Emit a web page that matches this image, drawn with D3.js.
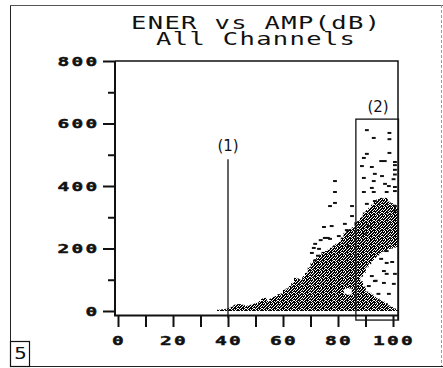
<!DOCTYPE html>
<html>
<head>
<meta charset="utf-8">
<script src="https://cdn.jsdelivr.net/npm/d3@7"></script>
<style>
  html, body { margin: 0; padding: 0; background: #fff; }
  svg { display: block; }
</style>
</head>
<body>
<svg id="chart" width="443" height="368"></svg>
<script>
// ENER vs AMP(dB) density plot, all channels

// amplitude bins (dB), one column each
const ampDb = [36, 37, 38, 39, 40, 41, 42, 43, 44, 45, 46, 47, 48, 49, 50, 51, 52, 53, 54, 55,
  56, 57, 58, 59, 60, 61, 62, 63, 64, 65, 66, 67, 68, 69, 70, 71, 72, 73, 74, 75,
  76, 77, 78, 79, 80, 81, 82, 83, 84, 85, 86, 87, 88, 89, 90, 91, 92, 93, 94, 95,
  96, 97, 98, 99, 100, 101];
// upper edge of the dense hit region per bin (energy counts)
const enerTop = [4, 5, 6, 7, 10, 14, 20, 22, 22, 20, 16, 18, 20, 24, 26, 32, 40, 42, 32, 40,
  45, 48, 54, 56, 68, 72, 80, 90, 106, 104, 100, 112, 122, 140, 154, 165, 170, 180, 189, 192,
  196, 202, 210, 215, 221, 235, 250, 259, 262, 268, 285, 290, 300, 315, 323, 330, 340, 350, 358, 362,
  360, 362, 350, 345, 340, 330];
// empty band inside the dense region (null = none)
const gapLow = [null, null, null, null, null, null, null, null, null, null, null, null, null, null, null, null, null, null, null, null,
  null, null, null, null, null, null, null, null, null, null, null, null, null, null, null, null, null, null, null, null,
  null, null, null, null, null, null, 55, 52, 52, null, null, null, 95, 78, 62, 58, 52, 45, 40, 35,
  30, 25, 18, 13, 8, 4];
const gapHigh = [null, null, null, null, null, null, null, null, null, null, null, null, null, null, null, null, null, null, null, null,
  null, null, null, null, null, null, null, null, null, null, null, null, null, null, null, null, null, null, null, null,
  null, null, null, null, null, null, 70, 74, 72, null, null, null, 110, 122, 140, 150, 160, 170, 178, 185,
  190, 195, 198, 200, 203, 205];

// isolated hits above the dense region
const hitAmp = [89.8, 98, 92.3, 98, 98, 89.8, 88.7, 95, 96.3, 100, 88, 91.6, 100, 100, 100, 99.5, 92.7, 95.3, 88.7, 78.2,
  92.3, 96.4, 97.8, 100, 91.6, 78.2, 88.7, 92.3, 97, 100, 78.2, 76.4, 84.4, 92.7, 89.8, 100, 100, 84.4, 81.8, 74.2,
  82.5, 74.5, 76.4, 79.6, 71, 70.5, 72.4, 69.8, 83.3, 97, 97, 96, 91.6, 92.7, 96, 97, 90.5, 94, 97.8, 100,
  99.6, 89, 90.5, 77, 75.6, 72, 71, 73, 93, 95, 99];
const hitEner = [582, 573, 557, 553, 509, 506, 493, 483, 483, 480, 467, 464, 470, 455, 440, 425, 442, 435, 429, 419,
  419, 410, 403, 400, 397, 384, 384, 384, 384, 387, 349, 339, 339, 355, 346, 339, 325, 307, 282, 272,
  262, 237, 234, 243, 218, 205, 202, 189, 211, 195, 157, 131, 115, 99, 93, 122, 83, 58, 58, 122,
  90, 250, 275, 275, 237, 180, 165, 230, 100, 170, 160];

// axis ticks
const yMajor = [0, 200, 400, 600, 800];
const yMinor = [100, 300, 500, 700];
const xTicks = [0, 10, 20, 30, 40, 50, 60, 70, 80, 90, 100];
const xLabels = [0, 20, 40, 60, 80, 100];

// marked zones: threshold line (1) and region (2)
const zone1 = [40, -22, 486];
const zone2 = [86.5, 102, -29, 614];

const svg = d3.select("#chart");
const x = d3.scaleLinear().domain([0, 100]).range([118, 393]);
const y = d3.scaleLinear().domain([0, 800]).range([311, 61]);

// stipple fill for the dense region (8x8 dither cell)
const ditherRows = ["10110111", "01101101", "11011010", "10110111", "01111001", "11010110", "01101111", "10111010"];
const defs = svg.append("defs");
const pat = defs.append("pattern").attr("id", "stipple")
  .attr("width", 8).attr("height", 8).attr("patternUnits", "userSpaceOnUse");
pat.append("rect").attr("width", 8).attr("height", 8).attr("fill", "#fff");
const dots = [];
ditherRows.forEach((row, j) => row.split("").forEach((c, i) => { if (c === "1") dots.push([i, j]); }));
pat.selectAll("rect.d").data(dots).join("rect").attr("class", "d")
  .attr("x", d => d[0]).attr("y", d => d[1]).attr("width", 1).attr("height", 1).attr("fill", "#000");

// outer frame
const frame = svg.append("g").attr("stroke", "#222").attr("stroke-width", 1).attr("fill", "none");
frame.append("line").attr("x1", 10.5).attr("x2", 10.5).attr("y1", 5).attr("y2", 366);
frame.append("line").attr("x1", 10).attr("x2", 443).attr("y1", 5.5).attr("y2", 5.5).attr("stroke", "#555");
frame.append("line").attr("x1", 10).attr("x2", 443).attr("y1", 366.5).attr("y2", 366.5);
frame.append("line").attr("x1", 441.5).attr("x2", 441.5).attr("y1", 5).attr("y2", 366)
  .attr("stroke", "#999").attr("stroke-dasharray", "3,2");

// page number box
svg.append("rect").attr("x", 10.5).attr("y", 341.5).attr("width", 19).attr("height", 25)
  .attr("fill", "none").attr("stroke", "#111").attr("stroke-width", 1.2);
svg.append("g").attr("transform", "translate(20.5,359) scale(1.3,1)")
  .append("text").attr("text-anchor", "middle")
  .attr("font-family", "DejaVu Sans Mono").attr("font-size", 16).attr("fill", "#111").text("5");

// title, wide monospaced lettering (pitch about 16.7px)
const tsx = 1.5;
const title = svg.append("g").attr("font-family", "DejaVu Sans Mono").attr("font-size", 17)
  .attr("letter-spacing", 0.9).attr("fill", "#111");
title.append("g").attr("transform", `translate(131,29) scale(${tsx},1.03)`)
  .append("text").text("ENER vs AMP(dB)");
title.append("g").attr("transform", `translate(156,45) scale(${tsx},1.03)`)
  .append("text").text("All Channels");

// dense region columns
const cols = ampDb.map((a, i) => ({ a, top: enerTop[i], lo: gapLow[i], hi: gapHigh[i] }));
const segs = [];
cols.forEach(c => {
  if (c.lo == null) segs.push({ a: c.a, from: 0, to: c.top });
  else {
    segs.push({ a: c.a, from: 0, to: c.lo });
    segs.push({ a: c.a, from: c.hi, to: c.top });
  }
});
svg.append("g").selectAll("rect").data(segs).join("rect")
  .attr("x", d => x(d.a)).attr("width", d => x(d.a + 1) - x(d.a) + 0.3)
  .attr("y", d => y(d.to)).attr("height", d => y(d.from) - y(d.to))
  .attr("fill", "url(#stipple)");

// isolated hits
svg.append("g").selectAll("rect").data(hitAmp.map((a, i) => [a, hitEner[i]])).join("rect")
  .attr("x", d => x(d[0])).attr("y", d => y(d[1]))
  .attr("width", d => x(d[0] + 1.4) - x(d[0])).attr("height", 2).attr("fill", "#111");

// plot box and axes
const axisColor = "#111";
svg.append("path")
  .attr("d", `M${x(0) - 3},${y(800)}H398V${y(-29)}`)
  .attr("fill", "none").attr("stroke", axisColor).attr("stroke-width", 1.5);
svg.append("path")
  .attr("d", `M115,${y(800)}V315.5H398`)
  .attr("fill", "none").attr("stroke", axisColor).attr("stroke-width", 2);

const yAxisMajor = d3.axisLeft(y).tickValues(yMajor).tickSize(12).tickFormat("");
const yAxisMinor = d3.axisLeft(y).tickValues(yMinor).tickSize(7).tickFormat("");
const gy1 = svg.append("g").attr("transform", "translate(115,0)").call(yAxisMajor);
const gy2 = svg.append("g").attr("transform", "translate(115,0)").call(yAxisMinor);
const gx = svg.append("g").attr("transform", "translate(0,316)")
  .call(d3.axisBottom(x).tickValues(xTicks).tickSize(11).tickFormat(""));
[gy1, gy2, gx].forEach(g => {
  g.select(".domain").remove();
  g.selectAll(".tick line").attr("stroke", axisColor).attr("stroke-width", 2);
});

// wide bold tick labels (pitch about 14px)
const sx = 1.5;
const labelFont = g => g.attr("font-family", "DejaVu Sans Mono").attr("font-weight", "bold")
  .attr("font-size", 13).attr("letter-spacing", 1.5).attr("fill", "#111")
  .attr("stroke", "#111").attr("stroke-width", 0.45);
svg.append("g").call(labelFont).selectAll("g").data(yMajor).join("g")
  .attr("transform", d => `translate(${99.5},${y(d) + 4.7}) scale(${sx},1)`)
  .append("text").attr("text-anchor", "end").text(d => d);
svg.append("g").call(labelFont).selectAll("g").data(xLabels).join("g")
  .attr("transform", d => `translate(${x(d) + 1.1},344.8) scale(${sx},1)`)
  .append("text").attr("text-anchor", "middle").text(d => d);

// zone (1): threshold line
svg.append("line").attr("x1", x(zone1[0])).attr("x2", x(zone1[0]))
  .attr("y1", y(zone1[2])).attr("y2", y(zone1[1])).attr("stroke", "#111").attr("stroke-width", 1.3);
svg.append("text").attr("x", x(zone1[0])).attr("y", 151).attr("text-anchor", "middle")
  .attr("font-family", "DejaVu Sans").attr("font-size", 15).attr("fill", "#111").text("(1)");

// zone (2): boxed region
svg.append("rect").attr("x", x(zone2[0])).attr("y", y(zone2[3]))
  .attr("width", x(zone2[1]) - x(zone2[0])).attr("height", y(zone2[2]) - y(zone2[3]))
  .attr("fill", "none").attr("stroke", "#111").attr("stroke-width", 1.3);
svg.append("text").attr("x", 378).attr("y", 112).attr("text-anchor", "middle")
  .attr("font-family", "DejaVu Sans").attr("font-size", 15).attr("fill", "#111").text("(2)");
</script>
</body>
</html>
